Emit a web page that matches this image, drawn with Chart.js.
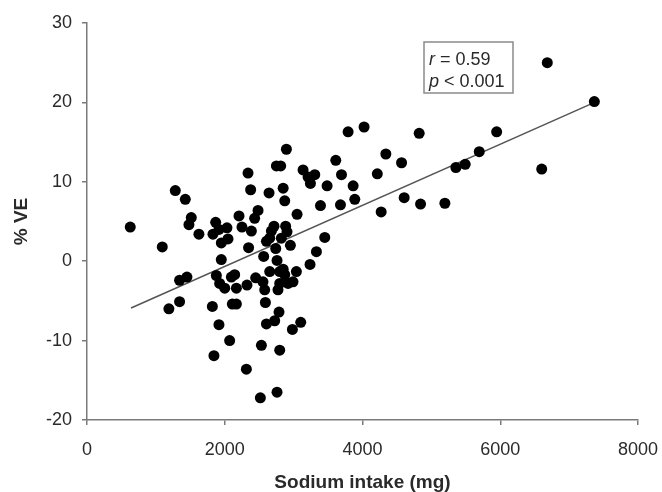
<!DOCTYPE html>
<html>
<head>
<meta charset="utf-8">
<title>Sodium intake vs % VE</title>
<script src="https://cdn.jsdelivr.net/npm/chart.js@4.4.1/dist/chart.umd.min.js"></script>
<style>
    html, body { margin: 0; padding: 0; background: #fff; }
    #wrap { width: 662px; height: 492px; }
</style>
</head>
<body>
<div id="wrap"><canvas id="veChart" width="662" height="492"></canvas></div>
<script>
// sodium intake (mg) per subject
const sodiumIntake = [
    628, 1093, 1189, 1282, 1344, 1344, 1427, 1451, 1480, 1514,
    1625, 1820, 1829, 1843, 1868, 1878, 1916, 1916, 1926, 1950,
    1950, 2000, 2032, 2047, 2071, 2096, 2110, 2144, 2169, 2169,
    2207, 2250, 2314, 2323, 2338, 2346, 2376, 2387, 2434, 2449,
    2483, 2517, 2532, 2555, 2565, 2580, 2590, 2605, 2605, 2643,
    2653, 2653, 2677, 2715, 2725, 2740, 2750, 2759, 2759, 2773,
    2788, 2798, 2798, 2798, 2812, 2822, 2848, 2848, 2871, 2871,
    2884, 2895, 2904, 2919, 2953, 2982, 2991, 3040, 3050, 3103,
    3137, 3210, 3238, 3244, 3307, 3331, 3390, 3452, 3486, 3612,
    3680, 3695, 3791, 3864, 3888, 4023, 4215, 4271, 4339, 4567,
    4605, 4823, 4843, 5196, 5356, 5491, 5695, 5948, 6602, 6683,
    7366
];

// % VE per subject (same order as above)
const percentVE = [
    4.3, 1.8, -6.0, 8.9, -5.1, -2.4, 7.8, -2.0, 4.6, 5.5,
    3.4, -5.7, 3.4, -11.9, 4.9, -1.8, 4.0, -8.0, -2.8, 2.3,
    0.2, -3.4, 4.2, 2.8, -10.0, -2.0, -5.4, -1.7, -3.4, -5.4,
    5.7, 4.3, -13.6, -3.0, 11.1, 1.7, 9.0, 3.8, 5.4, -2.1,
    6.4, -17.2, -10.6, -2.6, 0.6, -3.6, -5.2, 2.5, -7.9, 8.6,
    2.9, -1.3, 3.8, 4.4, -7.5, 1.6, 12.0, 0.1, -16.5, -3.6,
    -6.4, -1.3, -2.8, -11.2, 12.0, 2.9, 9.2, -1.0, 7.6, -1.7,
    4.4, 14.1, 3.7, -2.8, 2.0, -8.6, -2.6, -1.3, 5.9, -7.7,
    11.5, 10.6, -0.4, 9.8, 10.9, 1.2, 7.0, 3.0, 9.5, 12.7,
    7.1, 10.9, 16.3, 9.5, 7.8, 16.9, 11.0, 6.2, 13.5, 12.4,
    8.0, 16.1, 7.2, 7.3, 11.8, 12.2, 13.8, 16.3, 11.6, 25.0,
    20.1
];

// regression line end points
const fitX = [640, 7370];
const fitY = [-5.9, 20.0];

// axis ranges
const xRange = [0, 8000];
const yRange = [-20, 30];

// annotation text
const statLines = [['r', ' = 0.59'], ['p', ' < 0.001']];

const FONT = "'Liberation Sans', Arial, Helvetica, sans-serif";
const AXIS_GRAY = '#7a7a7a';
const TEXT = '#2a2a2a';

const points = sodiumIntake.map((x, i) => ({ x: x, y: percentVE[i] }));
const fitLine = fitX.map((x, i) => ({ x: x, y: fitY[i] }));

// r / p box in the upper right
const statBox = {
    id: 'statBox',
    afterDraw(chart) {
        const ctx = chart.ctx;
        ctx.save();
        ctx.strokeStyle = '#8a8a8a';
        ctx.lineWidth = 1.5;
        ctx.strokeRect(424, 42, 89, 51);
        ctx.fillStyle = TEXT;
        ctx.textBaseline = 'alphabetic';
        const baselines = [65, 87];
        statLines.forEach((parts, i) => {
            let x = 429;
            ctx.font = 'italic 18px ' + FONT;
            ctx.fillText(parts[0], x, baselines[i]);
            x += ctx.measureText(parts[0]).width;
            ctx.font = '18px ' + FONT;
            ctx.fillText(parts[1], x, baselines[i]);
        });
        ctx.restore();
    }
};

const axisCommon = {
    grid: {
        drawOnChartArea: false,
        drawTicks: true,
        tickLength: 5,
        color: AXIS_GRAY,
        lineWidth: 1.5
    },
    border: { display: true, color: AXIS_GRAY, width: 1.5 }
};

// plain numbers, no thousands separator
const plainTick = value => String(value);

new Chart(document.getElementById('veChart'), {
    type: 'scatter',
    data: {
        datasets: [
            {
                label: '% VE',
                data: points,
                backgroundColor: '#000',
                borderColor: '#000',
                pointRadius: 5.5,
                pointBorderWidth: 0,
                pointHoverRadius: 5.5
            },
            {
                type: 'line',
                label: 'fit',
                data: fitLine,
                borderColor: '#555',
                borderWidth: 1.5,
                pointRadius: 0,
                fill: false
            }
        ]
    },
    options: {
        responsive: false,
        animation: false,
        layout: { padding: { top: 23, right: 24, left: 0, bottom: 0 } },
        plugins: {
            legend: { display: false },
            tooltip: { enabled: false }
        },
        scales: {
            x: {
                ...axisCommon,
                type: 'linear',
                min: xRange[0],
                max: xRange[1],
                ticks: {
                    stepSize: 2000,
                    color: TEXT,
                    padding: 14,
                    font: { family: FONT, size: 18 },
                    callback: plainTick
                },
                title: {
                    display: true,
                    text: 'Sodium intake (mg)',
                    color: TEXT,
                    font: { family: FONT, size: 19, weight: 'bold' },
                    padding: { top: 0, bottom: -2 }
                },
                afterFit(scale) {
                    scale.height = 72;
                    // let the last label hang into the outer padding
                    scale.paddingLeft = 0;
                    scale.paddingRight = 0;
                }
            },
            y: {
                ...axisCommon,
                min: yRange[0],
                max: yRange[1],
                ticks: {
                    stepSize: 10,
                    color: TEXT,
                    padding: 10,
                    font: { family: FONT, size: 18 },
                    callback: plainTick
                },
                title: {
                    display: true,
                    text: '% VE',
                    color: TEXT,
                    font: { family: FONT, size: 19, weight: 'bold' },
                    padding: { top: 10, bottom: 0 }
                },
                afterFit(scale) {
                    scale.width = 87;
                    scale.paddingTop = 0;
                    scale.paddingBottom = 0;
                }
            }
        }
    },
    plugins: [statBox]
});
</script>
</body>
</html>
